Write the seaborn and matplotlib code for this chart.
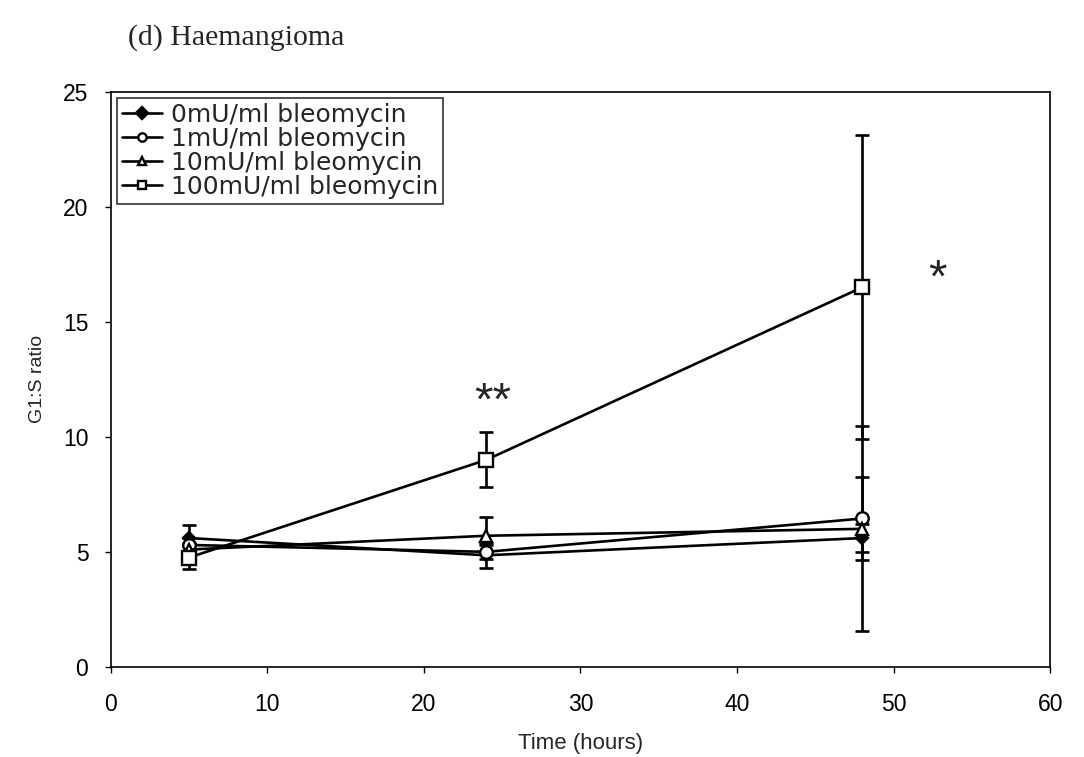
import numpy as np
import pandas as pd
import seaborn as sns
import matplotlib.pyplot as plt

sns.set_style("white")
plt.rcParams['font.family'] = ['Liberation Sans', 'DejaVu Sans']

# time points (hours)
time_h = [5, 24, 48]
series_names = ["0mU/ml bleomycin", "1mU/ml bleomycin",
                "10mU/ml bleomycin", "100mU/ml bleomycin"]

# G1:S ratio means
ratio_0 = [5.6, 4.85, 5.6]
ratio_1 = [5.3, 5.0, 6.45]
ratio_10 = [5.1, 5.7, 6.0]
ratio_100 = [4.75, 9.0, 16.5]

# error bars (+/-)
err_0 = [0.55, 0.55, 0.6]
err_1 = [0.3, 0.3, 1.8]
err_10 = [0.3, 0.8, 4.45]
err_100 = [0.5, 1.2, 6.6]

means = [ratio_0, ratio_1, ratio_10, ratio_100]
errs = [err_0, err_1, err_10, err_100]
markers = ["D", "o", "^", "s"]
facecols = ["black", "white", "white", "white"]
msizes = [6.5, 9, 8.5, 10]

rows = []
for name, m, e in zip(series_names, means, errs):
    for t, v, s in zip(time_h, m, e):
        rows.append({"Time": t, "Ratio": v, "Err": s, "Series": name})
df = pd.DataFrame(rows)

fig, ax = plt.subplots(figsize=(10.84, 7.57), dpi=100)
fig.subplots_adjust(left=0.102, right=0.969, top=0.879, bottom=0.119)

for name, mk, fc, ms in zip(series_names, markers, facecols, msizes):
    sub = df[df["Series"] == name]
    ax.errorbar(sub["Time"], sub["Ratio"], yerr=sub["Err"], fmt="none",
                ecolor="black", elinewidth=1.9, capsize=5, capthick=1.9, zorder=2)
    sns.lineplot(data=sub, x="Time", y="Ratio", ax=ax, color="black",
                 linewidth=1.9, marker=mk, markersize=ms, markerfacecolor=fc,
                 markeredgecolor="black", markeredgewidth=1.7, label=name,
                 zorder=3)

ax.set_xlim(0, 60)
ax.set_ylim(0, 25)
ax.set_xticks(range(0, 61, 10))
ax.set_yticks(range(0, 26, 5))
ax.tick_params(axis="both", direction="out", length=4, width=1, labelsize=16.5,
               bottom=True, left=True, colors="black")
ax.tick_params(axis="x", pad=15)
ax.tick_params(axis="y", pad=12)
for sp in ax.spines.values():
    sp.set_color("black")
    sp.set_linewidth(1.2)
ax.set_xlabel("Time (hours)", fontsize=16, labelpad=12)
ax.set_ylabel("G1:S ratio", fontsize=14, labelpad=12)

ax.text(24.4, 10.97, "**", fontsize=34, ha="center", va="baseline")
ax.text(52.8, 16.3, "*", fontsize=34, ha="center", va="baseline")

fig.text(0.118, 0.95, "(d) Haemangioma", fontsize=21.5,
         family=["Liberation Serif", "DejaVu Serif"], ha="left", va="center")

leg = ax.legend(loc="upper left", bbox_to_anchor=(0.0, 1.0),
                prop={"family": "DejaVu Sans", "size": 18},
                frameon=True, fancybox=False, edgecolor="black",
                handlelength=1.6, handletextpad=0.35, borderpad=0.2,
                labelspacing=0.0, borderaxespad=0.25)
leg.get_frame().set_linewidth(1.2)
for line in leg.get_lines():
    line.set_markersize(6)
    line.set_linewidth(1.9)

fig.savefig("out.png", dpi=100, facecolor="white")
